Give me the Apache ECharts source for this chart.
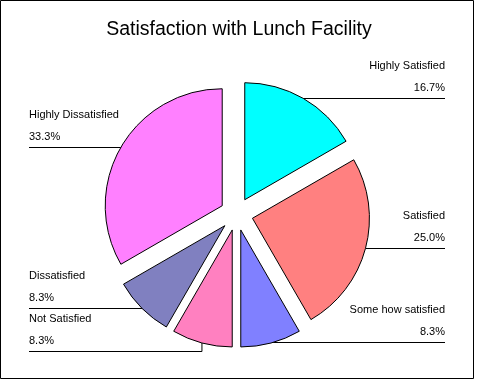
<!DOCTYPE html>
<html>
<head>
<meta charset="utf-8">
<script src="https://cdn.jsdelivr.net/npm/echarts@6/dist/echarts.min.js"></script>
<style>
html,body{margin:0;padding:0;background:#fff;}
#chart{width:478px;height:382px;}
</style>
</head>
<body>
<div id="chart"></div>
<script>
const titleText = 'Satisfaction with Lunch Facility';
const categories = ['Highly Satisfied', 'Satisfied', 'Some how satisfied', 'Not Satisfied', 'Dissatisfied', 'Highly Dissatisfied'];
const counts = [2, 3, 1, 1, 1, 4];
const colors = ['#00FFFF', '#FF8080', '#8080FF', '#FF80C0', '#8080C0', '#FF80FF'];

const OFFSET = 16.5;
const LEFT_X = 29;
const RIGHT_X = 445;
const BLOCK = 43;
const FONT = '"Liberation Sans", Arial, sans-serif';

const chart = echarts.init(document.getElementById('chart'), null, {renderer: 'canvas'});

function computeLabels() {
  const data = chart.getModel().getSeriesByIndex(0).getData();
  const items = [];
  for (let i = 0; i < categories.length; i++) {
    const lay = data.getItemLayout(i);
    const mid = (lay.startAngle + lay.endAngle) / 2;
    const c = Math.cos(mid), s = Math.sin(mid);
    items.push({
      i: i,
      x: lay.cx + (lay.r + OFFSET) * c,
      y: lay.cy + (lay.r + OFFSET) * s,
      left: c < 0
    });
  }
  [true, false].forEach(function (side) {
    const arr = items.filter(function (it) { return it.left === side; })
      .sort(function (a, b) { return a.y - b.y; });
    let prev = -Infinity;
    arr.forEach(function (it) {
      it.ly = Math.max(it.y, prev + BLOCK);
      prev = it.ly;
    });
  });
  return items;
}

const pieData = categories.map(function (name, i) {
  return { name: name, value: counts[i], selected: true, itemStyle: { color: colors[i] } };
});
const labelData = categories.map(function (name, i) {
  return { name: name, value: counts[i] };
});

chart.setOption({
  animation: false,
  backgroundColor: '#fff',
  title: {
    text: titleText,
    left: 'center',
    top: 15,
    textStyle: { fontFamily: FONT, fontSize: 19.5, fontWeight: 'normal', color: '#000' }
  },
  graphic: [{
    type: 'rect',
    shape: { x: 0.5, y: 0.5, width: 473, height: 378 },
    style: { fill: 'none', stroke: '#000', lineWidth: 1 },
    silent: true
  }],
  series: [{
    type: 'pie',
    center: [236.5, 214],
    radius: 117,
    startAngle: 90,
    clockwise: true,
    selectedMode: 'multiple',
    selectedOffset: OFFSET,
    silent: true,
    avoidLabelOverlap: false,
    label: { show: false },
    labelLine: { show: false },
    emphasis: { disabled: true },
    itemStyle: { borderColor: '#000', borderWidth: 1 },
    data: pieData
  }, {
    type: 'pie',
    center: [236.5, 214],
    radius: 117,
    startAngle: 90,
    clockwise: true,
    silent: true,
    avoidLabelOverlap: false,
    emphasis: { disabled: true },
    itemStyle: { color: 'rgba(0,0,0,0)', borderWidth: 0 },
    label: {
      show: true,
      fontFamily: FONT,
      fontSize: 11,
      color: '#000',
      lineHeight: 22,
      formatter: function (p) { return p.name + '\n' + p.percent.toFixed(1) + '%'; }
    },
    labelLine: { show: true, length: 10, length2: 10, lineStyle: { color: '#000', width: 1 } },
    labelLayout: function (params) {
      const L = computeLabels()[params.dataIndex];
      const ex = L.left ? LEFT_X : RIGHT_X;
      const ly = Math.floor(L.ly) + 0.5;
      return {
        x: ex,
        y: ly + 0.5,
        align: L.left ? 'left' : 'right',
        verticalAlign: 'bottom',
        labelLinePoints: [[L.x, L.y], [L.x, ly], [ex, ly]]
      };
    },
    data: labelData
  }]
});
</script>
</body>
</html>
